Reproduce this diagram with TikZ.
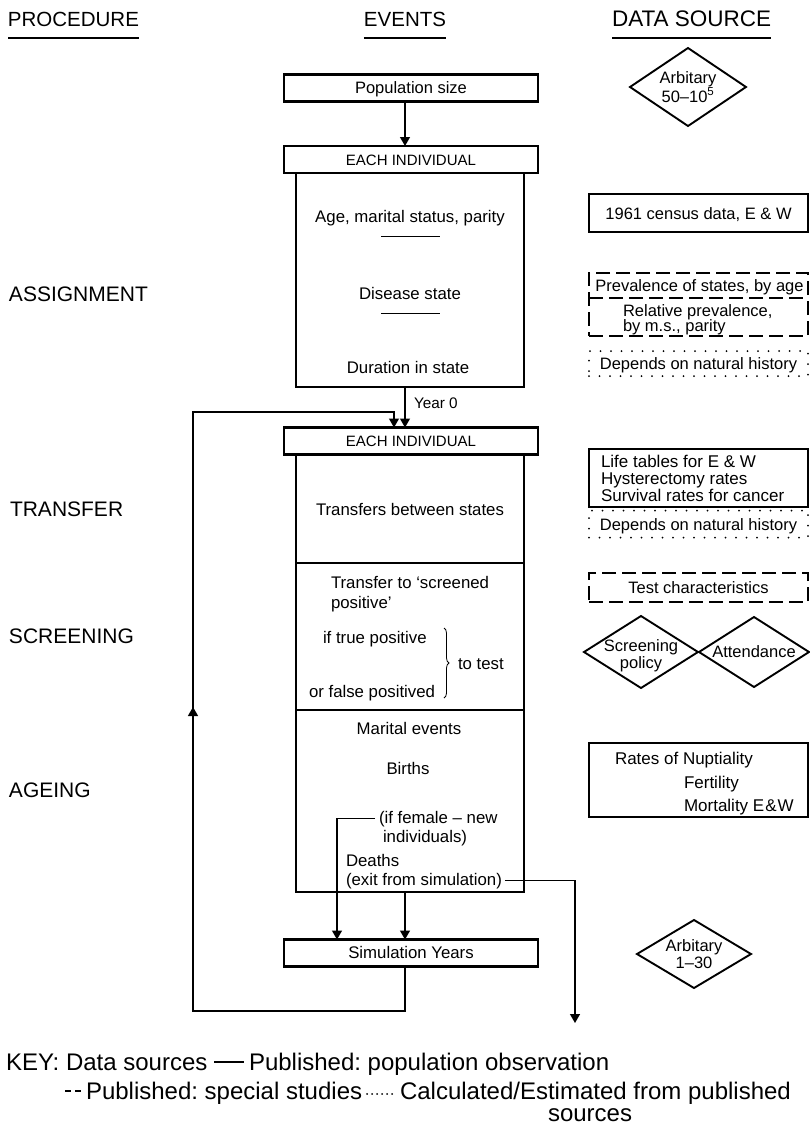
\documentclass[tikz,border=0pt]{standalone}
\usepackage{fontspec}
\setmainfont{Liberation Sans}
\usetikzlibrary{arrows.meta,shapes.geometric,decorations.pathreplacing}
\frenchspacing
\begin{document}
\begin{tikzpicture}[x=1pt,y=-1pt,
  every node/.style={inner sep=0pt,outer sep=0pt},
  fs/.style={font=\fontsize{#1}{#1}\selectfont},
  head/.style={fs=20.5,anchor=base},
  lbl/.style={fs=21,anchor=base west},
  ev/.style={fs=16.8,anchor=base},
  evl/.style={fs=16.8,anchor=base west},
  dsl/.style={fs=16.5,anchor=base west},
  hbox/.style={draw,line width=2.3pt,minimum width=254pt,minimum height=27pt,text height=11pt,text depth=0pt},
  bodybox/.style={draw,line width=2pt,minimum width=228pt},
  solidsrc/.style={draw,line width=1.9pt,minimum width=219pt,text height=12pt,text depth=0pt,fs=16.5},
  dashsrc/.style={draw,line width=1.6pt,dash pattern=on 14pt off 6pt},
  dotsrc/.style={draw,line width=2pt,dash pattern=on 0pt off 10.5pt,line cap=round},
  dia/.style={draw,diamond,line width=1.9pt,inner sep=-10pt,align=center,font=\fontsize{16.5}{17}\selectfont},
  diat/.style={align=center,font=\fontsize{16.5}{17}\selectfont},
  conn/.style={line width=1.3pt},
  arr/.style={conn,-{Triangle[width=10pt,length=9pt]}},
  keyt/.style={fs=24,anchor=base west},
]
\useasboundingbox (0,0) rectangle (810,1128);
\fill[white] (0,0) rectangle (810,1128);

% column headings
\coordinate (ul) at (0,38);
\node[head,anchor=base west] (hproc) at (8,26) {PROCEDURE};
\node[head] (hev) at (405,26) {EVENTS};
\node[head,fs=22.5,anchor=base west] (hds) at (612,26) {DATA SOURCE};
\foreach \n in {hproc,hev,hds} \draw[line width=1.2pt] (\n.west |- ul) -- (\n.east |- ul);

% procedure labels
\node[lbl] (lassign) at (9,301) {ASSIGNMENT};
\node[lbl] (ltrans) at (10,516) {TRANSFER};
\node[lbl] (lscreen) at (9,643) {SCREENING};
\node[lbl] (lage) at (9,797) {AGEING};

% events column
\node[hbox,fs=16.5] (pop) at (411,88) {Population size};
\node[hbox,fs=15] (ind1) at (411,159.5) {EACH INDIVIDUAL};
\node[bodybox,minimum height=214pt,anchor=north] (body1) at (410,173) {};
\node[ev] (tage) at (410,222) {Age, marital status, parity};
\draw[line width=1pt] (381,236) -- (440,236);
\node[ev] (tdis) at (410,299) {Disease state};
\draw[line width=1pt] (381,313) -- (440,313);
\node[ev] (tdur) at (408,373) {Duration in state};

\node[hbox,fs=15] (ind2) at (411,441) {EACH INDIVIDUAL};
\node[bodybox,minimum height=438pt,anchor=north] (body2) at (410,454) {};
\coordinate (dv1) at (0,563);
\coordinate (dv2) at (0,710);
\draw[line width=2pt] (body2.west |- dv1) -- (body2.east |- dv1);
\draw[line width=2pt] (body2.west |- dv2) -- (body2.east |- dv2);

\node[ev] (ttrans) at (410,515) {Transfers between states};
\node[evl] (tscr1) at (331,588) {Transfer to ‘screened};
\node[evl] (tscr2) at (331,608) {positive’};
\node[evl] (ttrue) at (323,643) {if true positive};
\node[evl] (tfalse) at (309,697) {or false positived};
\draw[decorate,decoration={brace,amplitude=5pt},line width=0.8pt] (444,628) -- (444,698);
\node[evl] (ttest) at (458,669) {to test};
\node[ev] (tmar) at (409,734) {Marital events};
\node[ev] (tbir) at (408,774) {Births};
\node[evl] (tfem) at (379,823) {(if female – new};
\node[evl] (tindiv) at (383,842) {individuals)};
\node[evl] (tdea) at (346,866) {Deaths};
\node[evl] (texit) at (346,885) {(exit from simulation)};

\node[hbox,fs=16.8] (sim) at (411,953) {Simulation Years};

% connectors
\coordinate (ax) at (405,0);
\coordinate (bx) at (337,0);
\coordinate (lx) at (193,0);
\coordinate (rx) at (394,0);
\coordinate (ex) at (575,0);
\coordinate (lt) at (0,412);
\coordinate (lb) at (0,1011);
\coordinate (ey) at (0,1023);
\coordinate (lm1) at (0,745);
\coordinate (lm2) at (0,707);

\draw[arr] (pop.south -| ax) -- (ind1.north -| ax);
\draw[arr] (body1.south -| ax) -- (ind2.north -| ax);
\node[fs=15.3,anchor=base west] (year0) at (414,408.5) {Year 0};
\draw[arr] (sim.south -| ax) -- (ax |- lb) -- (lx |- lb) -- (lx |- lt) -- (rx |- lt) -- (rx |- ind2.north);
\draw[arr] (lx |- lm1) -- (lx |- lm2);
\draw[arr] (body2.south -| ax) -- (sim.north -| ax);
\draw[arr] ([xshift=-4pt]tfem.west) -- (bx |- tfem.west) -- (bx |- sim.north);
\draw[arr] ([xshift=3pt]texit.east) -- (ex |- texit.east) -- (ex |- ey);

% data sources
\node[dia,minimum width=116pt,minimum height=78pt] (arb1) at (688,87) {Arbitary\\50–10\textsuperscript{5}};
\node[solidsrc,minimum height=38pt] (census) at (698.5,213) {1961 census data, E \& W};

\node[dashsrc,minimum width=219pt,minimum height=63pt] (prev) at (698.5,304.5) {};
\coordinate (pv) at (0,298);
\draw[dashsrc] (prev.west |- pv) -- (prev.east |- pv);
\node[fs=16.5,anchor=base] (tprev1) at (699.5,291) {Prevalence of states, by age};
\node[dsl] (tprev2) at (623,316) {Relative prevalence,};
\node[dsl] (tprev3) at (623,331) {by m.s., parity};

\node[dotsrc,minimum width=219pt,minimum height=25pt,text height=12pt,text depth=0pt,fs=16.5] (dep1) at (698.5,363.5) {Depends on natural history};

\node[solidsrc,minimum height=58pt] (life) at (698.5,478) {};
\node[fs=17,anchor=base west] (tlife1) at (601,467) {Life tables for E \& W};
\node[fs=17,anchor=base west] (tlife2) at (601,484) {Hysterectomy rates};
\node[fs=17,anchor=base west] (tlife3) at (601,501) {Survival rates for cancer};

\node[dotsrc,minimum width=219pt,minimum height=27pt,text height=12pt,text depth=0pt,fs=16.5] (dep2) at (698.5,524) {Depends on natural history};

\node[dashsrc,minimum width=219pt,minimum height=29pt,text height=12pt,text depth=0pt,fs=16.5] (test) at (698.5,587.5) {Test characteristics};

\node[dia,minimum width=114pt,minimum height=72pt] (scrpol) at (641,652) {};
\node[diat] (scrtext) at (641,656) {Screening\\policy};
\node[dia,minimum width=110pt,minimum height=70pt] (attend) at (754,652) {Attendance};

\node[solidsrc,minimum height=74pt] (nup) at (698.5,780) {};
\node[fs=17,anchor=base west] (tnup1) at (615,764) {Rates of Nuptiality};
\node[fs=17,anchor=base west] (tnup2) at (684,788) {Fertility};
\node[fs=17,anchor=base west] (tnup3) at (684,811) {Mortality E\kern1pt\&\kern1pt W};

\node[dia,minimum width=114pt,minimum height=68pt] (arb2) at (694,954) {Arbitary\\1–30};

% key
\node[keyt] (k1) at (6,1070) {KEY: Data sources};
\draw[line width=1.3pt] (214,1062) -- (244,1062);
\node[keyt] (k2) at (249,1070) {Published: population observation};
\draw[line width=1.3pt,dash pattern=on 6pt off 4pt] (65,1091) -- (81,1091);
\node[keyt] (k3) at (86,1099) {Published: special studies};
\draw[line width=2pt,dash pattern=on 0.01pt off 5pt,line cap=round] (367,1094) -- (394,1094);
\node[keyt] (k4) at (400,1099) {Calculated/Estimated from published};
\node[keyt] (k5) at (548,1121) {sources};
\end{tikzpicture}
\end{document}
